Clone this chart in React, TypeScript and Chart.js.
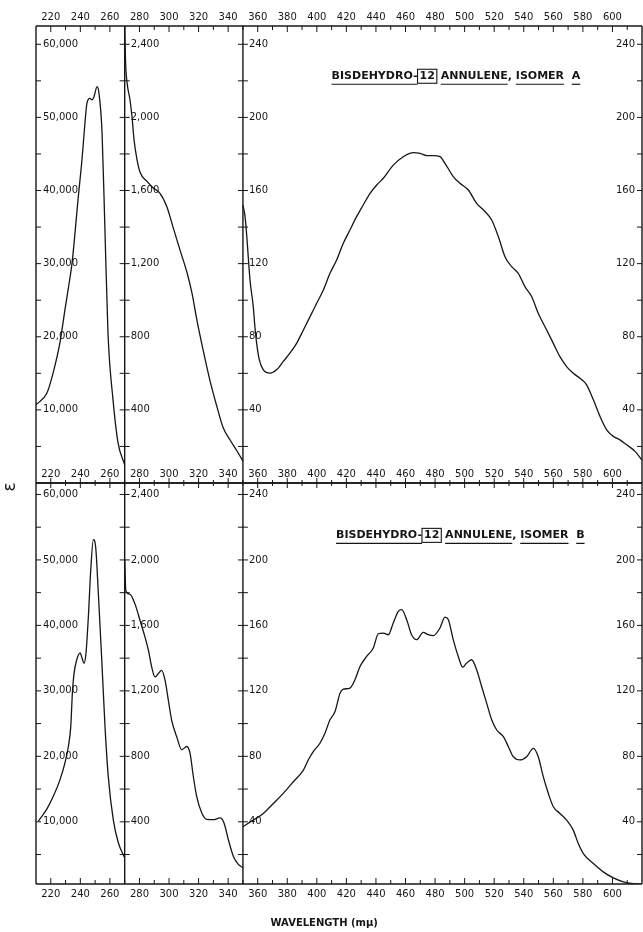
import React, { useEffect, useRef } from "react";
import { Chart, registerables } from "chart.js";

Chart.register(...registerables);

const INK = "#161616";
const FONT = '"DejaVu Sans", "Liberation Sans", sans-serif';

// ---- axis / tick values ----
const X_MIN = 210;
const X_MAX = 620;
const X_TICK_LABELS = [220, 240, 260, 280, 300, 320, 340, 360, 380, 400, 420, 440, 460, 480, 500, 520, 540, 560, 580, 600];
const X_MINOR_STEP = 10;
const DIVIDERS = [270, 350];
const UV_TICK_LABELS = [10000, 20000, 30000, 40000, 50000, 60000];
const UV_TICK_STEP = 5000;
const MID_TICK_LABELS = [400, 800, 1200, 1600, 2000, 2400];
const MID_TICK_STEP = 200;
const VIS_TICK_LABELS = [40, 80, 120, 160, 200, 240];
const VIS_TICK_STEP = 20;

// ---- Isomer A ----
const A_UV_NM = [210, 217.4, 221.5, 226.2, 229.6, 231.7, 234.4, 236.4, 238.4, 241.1, 243.1, 244.5, 246.5, 247.9, 249.2, 251.3, 252.6, 254.7, 256.7, 258.7, 262.1, 265.5, 270];
const A_UV_EPS = [10700, 12300, 15000, 19200, 23700, 26400, 30100, 34200, 38700, 44200, 49200, 52000, 52600, 52400, 52800, 54200, 53300, 47900, 34200, 20500, 11400, 5500, 2500];
const A_MID_NM = [270, 270.6, 271.6, 273.6, 275, 276.3, 278.3, 280.4, 285.1, 289.2, 293.9, 298.6, 302.7, 307.4, 312.2, 315.5, 318.9, 323, 327.7, 332.5, 336.5, 341.3, 346, 350];
const A_MID_EPS = [2500, 2300, 2190, 2095, 2000, 1880, 1770, 1700, 1650, 1615, 1585, 1510, 1400, 1275, 1150, 1040, 890, 730, 560, 415, 305, 235, 175, 120];
const A_VIS_NM = [350, 351.4, 352.5, 354.8, 357, 358.1, 359.3, 361.1, 363.8, 368.3, 372.8, 377.3, 381.8, 386.3, 390.9, 395.4, 399.9, 404.4, 408.9, 413.4, 417.9, 422.4, 426.9, 431.4, 436, 440.5, 445, 451.7, 458.5, 465.3, 469.8, 474.3, 478.8, 483.3, 486.7, 492.3, 496.8, 502.5, 508.1, 513.8, 518.3, 522.8, 527.3, 531.8, 536.3, 540.8, 545.3, 549.8, 555.5, 560, 564.5, 569, 573.5, 578, 582.5, 587.1, 591.6, 596.1, 600.6, 605.1, 609.6, 615.3, 620];
const A_VIS_EPS = [152, 146, 136, 111, 96.5, 85.5, 76.4, 67.3, 61.9, 60.1, 61.9, 66.5, 71, 76.4, 83.7, 91, 98.3, 105.6, 114.7, 122, 131.1, 138.4, 145.7, 152.1, 158.5, 163, 166.7, 173.9, 178.5, 180.7, 180.3, 179.1, 179.1, 178.5, 174.9, 167.6, 164, 160.3, 153, 148.5, 143.9, 134.8, 123.8, 118.4, 114.7, 107.4, 102, 92.9, 83.7, 76.4, 69.1, 63.7, 60, 57.3, 53.7, 45.5, 36.4, 29.1, 25.5, 23.6, 20.9, 17.3, 12.5];

// ---- Isomer B ----
const B_UV_NM = [211.6, 217.2, 221.7, 226.2, 229.6, 231.9, 233.5, 234.6, 235.7, 237.5, 239.8, 241.3, 242.5, 243.8, 245.4, 247, 248.8, 250.4, 252.2, 254.5, 256.7, 258.9, 262.3, 265.7, 270];
const B_UV_EPS = [10100, 11900, 13900, 16400, 19000, 21500, 24500, 29600, 32600, 34700, 35800, 34900, 34200, 35700, 41200, 48300, 53100, 51900, 44800, 34700, 24500, 16900, 10300, 6800, 4500];
const B_MID_NM = [270, 270.8, 273.6, 277, 280.4, 283.7, 286, 288.3, 290.5, 292.7, 295, 297.3, 299.5, 301.8, 305.2, 308.6, 312, 314.2, 316.4, 318.7, 322.1, 325.5, 330, 334.5, 337.2, 340.1, 343.5, 346.9, 350];
const B_MID_EPS = [2000, 1810, 1790, 1730, 1630, 1530, 1450, 1345, 1285, 1305, 1325, 1265, 1145, 1020, 920, 840, 860, 820, 680, 555, 455, 415, 413, 424, 393, 292, 190, 140, 120];
const B_VIS_NM = [350, 357, 363.8, 370.6, 377.3, 384.1, 390.9, 394.2, 397.6, 402.1, 405.5, 408.9, 412.3, 415.7, 417.9, 422.4, 425.8, 429.2, 433.7, 438.2, 441.6, 445, 448.4, 451.7, 455.1, 457.4, 460.8, 464.1, 467.5, 472, 475.4, 478.8, 483.3, 486.7, 489, 492.3, 495.7, 498.7, 501.4, 504.7, 508.1, 511.5, 514.9, 518.3, 521.7, 526.2, 529.6, 532.9, 537.4, 542, 546.5, 549.8, 553.2, 556.6, 560, 564.5, 569, 573.5, 576.9, 580.3, 587.1, 593.8, 600.6, 607.4, 614.1, 620];
const B_VIS_EPS = [37, 41, 45.1, 51.2, 57.4, 64.5, 71.6, 77.8, 82.9, 88, 94.1, 102.3, 107.4, 118.6, 121, 121.7, 126.8, 134.9, 141, 146.2, 154.9, 155.3, 154.3, 161.5, 168.6, 169.6, 163.5, 154.3, 151.3, 155.7, 154.3, 153.7, 158.4, 165.1, 163.5, 151.3, 141, 134.5, 137, 139, 132.9, 122.7, 112.5, 102.3, 96.1, 92, 85.9, 79.8, 77.8, 79.8, 84.9, 79.8, 67.6, 57.4, 49.2, 45.1, 41, 34.9, 26.7, 20.6, 14.5, 9.4, 5.7, 3.3, 2.2, 1.8];

const TITLE_A = "A";
const TITLE_B = "B";
const X_TITLE = "WAVELENGTH (mμ)";
const Y_TITLE = "ε";

const zip = (xs: number[], ys: number[]) => xs.map((x, i) => ({ x, y: ys[i] }));
const fmt = (v: number) => v.toLocaleString("en-US");

type PanelOpts = {
  topMode: "down" | "cross";
  topLabels: boolean;
  bottomLabels: boolean;
  bottomTicks: boolean;
  suffix: string;
  titleX: number;
  titleY: number;
  yTitle: boolean;
};

function drawTitle(ctx: CanvasRenderingContext2D, x: number, y: number, suffix: string) {
  const seg = (x1: number, y1: number, x2: number, y2: number) => {
    ctx.beginPath();
    ctx.moveTo(x1, y1);
    ctx.lineTo(x2, y2);
    ctx.stroke();
  };
  ctx.font = `bold 11px ${FONT}`;
  ctx.textAlign = "left";
  ctx.textBaseline = "middle";
  const parts: { t: string; u?: boolean; box?: boolean }[] = [
    { t: "BISDEHYDRO-", u: true },
    { t: "12", box: true },
    { t: " " },
    { t: "ANNULENE", u: true },
    { t: ", " },
    { t: "ISOMER", u: true },
    { t: "  " },
    { t: suffix, u: true },
  ];
  let cx = x;
  for (const p of parts) {
    const w = ctx.measureText(p.t).width;
    if (p.box) {
      cx += 2;
      ctx.fillText(p.t, cx, y);
      ctx.lineWidth = 1.1;
      ctx.strokeRect(cx - 2, y - 7, w + 4, 14);
      cx += w + 2;
      continue;
    }
    ctx.fillText(p.t, cx, y);
    if (p.u) {
      ctx.lineWidth = 1.2;
      seg(cx, y + 8, cx + w, y + 8);
    }
    cx += w;
  }
}

const panelPlugin = {
  id: "panelFrame",
  afterDatasetsDraw(chart: any, _args: any, opts: PanelOpts) {
    const { ctx, chartArea: a, scales } = chart;
    const sx = scales.x, sL = scales.yL, sM = scales.yM, sR = scales.yR;
    const seg = (x1: number, y1: number, x2: number, y2: number) => {
      ctx.beginPath();
      ctx.moveTo(x1, y1);
      ctx.lineTo(x2, y2);
      ctx.stroke();
    };
    ctx.save();
    ctx.strokeStyle = INK;
    ctx.fillStyle = INK;
    // frame + dividers
    ctx.lineWidth = 1.4;
    seg(a.left, a.top, a.left, a.bottom);
    seg(a.right, a.top, a.right, a.bottom);
    seg(a.left, a.top, a.right, a.top);
    seg(a.left, a.bottom, a.right, a.bottom);
    const d1 = sx.getPixelForValue(DIVIDERS[0]);
    const d2 = sx.getPixelForValue(DIVIDERS[1]);
    seg(d1, a.top, d1, a.bottom);
    seg(d2, a.top, d2, a.bottom);

    // y ticks
    ctx.lineWidth = 1;
    ctx.font = `10px ${FONT}`;
    ctx.textBaseline = "middle";
    for (let v = UV_TICK_STEP; v <= sL.max; v += UV_TICK_STEP) {
      const y = sL.getPixelForValue(v);
      seg(a.left, y, a.left + 5, y);
    }
    ctx.textAlign = "left";
    for (const v of UV_TICK_LABELS) {
      ctx.fillText(fmt(v), a.left + 7, sL.getPixelForValue(v));
    }
    for (let v = MID_TICK_STEP; v <= sM.max; v += MID_TICK_STEP) {
      const y = sM.getPixelForValue(v);
      seg(d1 - 5, y, d1 + 5, y);
    }
    for (const v of MID_TICK_LABELS) {
      ctx.fillText(fmt(v), d1 + 6, sM.getPixelForValue(v));
    }
    for (let v = VIS_TICK_STEP; v <= sR.max; v += VIS_TICK_STEP) {
      const y = sR.getPixelForValue(v);
      seg(d2 - 5, y, d2 + 5, y);
      seg(a.right - 5, y, a.right, y);
    }
    for (const v of VIS_TICK_LABELS) {
      ctx.textAlign = "left";
      ctx.fillText(fmt(v), d2 + 6, sR.getPixelForValue(v));
      ctx.textAlign = "right";
      ctx.fillText(fmt(v), a.right - 7, sR.getPixelForValue(v));
    }

    // x ticks
    for (let n = X_MIN + X_MINOR_STEP; n < X_MAX; n += X_MINOR_STEP) {
      const px = sx.getPixelForValue(n);
      const major = n % 20 === 0;
      if (opts.topMode === "down") seg(px, a.top, px, a.top + (major ? 6 : 4));
      else seg(px, a.top - (major ? 5 : 3), px, a.top + (major ? 5 : 3));
      if (opts.bottomTicks) seg(px, a.bottom, px, a.bottom - (major ? 6 : 4));
    }
    ctx.textAlign = "center";
    ctx.font = `10px ${FONT}`;
    for (const n of X_TICK_LABELS) {
      const px = sx.getPixelForValue(n);
      if (opts.topLabels) ctx.fillText(String(n), px, a.top - 9);
      if (opts.bottomLabels) ctx.fillText(String(n), px, a.bottom + 10);
    }
    if (opts.bottomLabels) {
      ctx.font = `bold 10px ${FONT}`;
      ctx.fillText(X_TITLE, sx.getPixelForValue(405), a.bottom + 39);
    }
    if (opts.yTitle) {
      ctx.save();
      ctx.translate(11, a.top + 4);
      ctx.rotate(-Math.PI / 2);
      ctx.font = `17px ${FONT}`;
      ctx.textAlign = "center";
      ctx.textBaseline = "middle";
      ctx.fillText(Y_TITLE, 0, 0);
      ctx.restore();
    }

    drawTitle(ctx, sx.getPixelForValue(opts.titleX), sR.getPixelForValue(opts.titleY), opts.suffix);
    ctx.restore();
  },
};

function makeConfig(
  uv: { x: number; y: number }[],
  mid: { x: number; y: number }[],
  vis: { x: number; y: number }[],
  visMin: number,
  visMax: number,
  padding: { left: number; right: number; top: number; bottom: number },
  opts: PanelOpts
): any {
  const line = { borderColor: INK, borderWidth: 1.3, pointRadius: 0, fill: false, cubicInterpolationMode: "monotone" };
  return {
    type: "line",
    data: {
      datasets: [
        { ...line, data: uv, yAxisID: "yL" },
        { ...line, data: mid, yAxisID: "yM" },
        { ...line, data: vis, yAxisID: "yR" },
      ],
    },
    options: {
      responsive: false,
      animation: false,
      events: [],
      layout: { padding },
      scales: {
        x: { type: "linear", min: X_MIN, max: X_MAX, display: false },
        yL: { type: "linear", min: visMin * 250, max: visMax * 250, display: false },
        yM: { type: "linear", min: visMin * 10, max: visMax * 10, display: false },
        yR: { type: "linear", min: visMin, max: visMax, display: false },
      },
      plugins: {
        legend: { display: false },
        tooltip: { enabled: false },
        panelFrame: opts,
      },
    },
    plugins: [panelPlugin],
  };
}

export default function App() {
  const topRef = useRef<HTMLCanvasElement>(null);
  const botRef = useRef<HTMLCanvasElement>(null);

  useEffect(() => {
    document.body.style.margin = "0";
    document.body.style.background = "#fff";
    const c1 = new Chart(
      topRef.current as HTMLCanvasElement,
      makeConfig(
        zip(A_UV_NM, A_UV_EPS),
        zip(A_MID_NM, A_MID_EPS),
        zip(A_VIS_NM, A_VIS_EPS),
        0,
        250,
        { left: 36, right: 1, top: 26, bottom: 1 },
        { topMode: "down", topLabels: true, bottomLabels: false, bottomTicks: false, suffix: TITLE_A, titleX: 410, titleY: 222.5, yTitle: false }
      )
    );
    const c2 = new Chart(
      botRef.current as HTMLCanvasElement,
      makeConfig(
        zip(B_UV_NM, B_UV_EPS),
        zip(B_MID_NM, B_MID_EPS),
        zip(B_VIS_NM, B_VIS_EPS),
        2,
        247,
        { left: 36, right: 1, top: 19, bottom: 48 },
        { topMode: "cross", topLabels: true, bottomLabels: true, bottomTicks: true, suffix: TITLE_B, titleX: 413, titleY: 215, yTitle: true }
      )
    );
    return () => {
      c1.destroy();
      c2.destroy();
    };
  }, []);

  return (
    <div style={{ position: "relative", width: 643, height: 932, background: "#fff", overflow: "hidden" }}>
      <canvas ref={topRef} width={643} height={484} style={{ position: "absolute", left: 0, top: 0, width: 643, height: 484 }} />
      <canvas ref={botRef} width={643} height={468} style={{ position: "absolute", left: 0, top: 464, width: 643, height: 468 }} />
    </div>
  );
}
